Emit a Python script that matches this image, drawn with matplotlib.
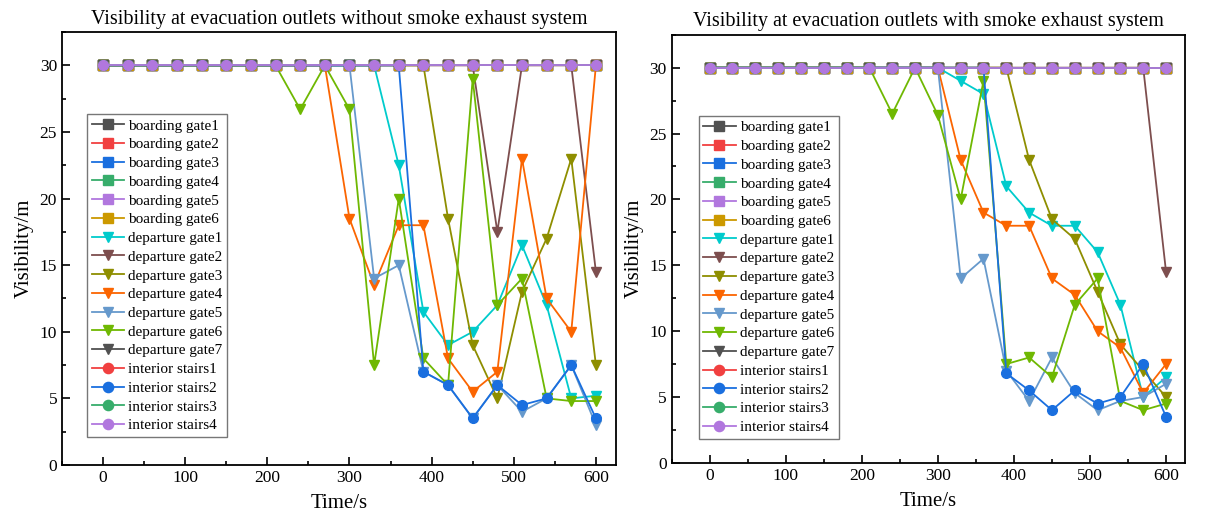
import numpy as np
import matplotlib
matplotlib.use("Agg")
import matplotlib.pyplot as plt
from matplotlib.ticker import MultipleLocator

plt.rcParams['font.family'] = ['Liberation Serif', 'DejaVu Serif']

# time axis, every 30 s
time_s = np.arange(0, 601, 30)

labels = ['boarding gate1', 'boarding gate2', 'boarding gate3', 'boarding gate4',
          'boarding gate5', 'boarding gate6', 'departure gate1', 'departure gate2',
          'departure gate3', 'departure gate4', 'departure gate5', 'departure gate6',
          'departure gate7', 'interior stairs1', 'interior stairs2', 'interior stairs3',
          'interior stairs4']
colors = ['#515151', '#F14040', '#1A6FDF', '#37AD6B', '#B177DE', '#CC9900',
          '#00CBCC', '#7D4E4E', '#8E8E00', '#FB6501', '#6699CC', '#6FB802',
          '#515151', '#F14040', '#1A6FDF', '#37AD6B', '#B177DE']
markers = ['s'] * 6 + ['v'] * 7 + ['o'] * 4

full = [30] * 21

# without smoke exhaust system
no_dep1 = [30]*12 + [22.5, 11.5, 9, 10, 12, 16.5, 12, 5, 5.2]
no_dep2 = [30]*16 + [17.5, 30, 30, 30, 14.5]
no_dep3 = [30]*14 + [18.5, 9, 5, 13, 17, 23, 7.5]
no_dep4 = [30]*10 + [18.5, 13.5, 18, 18, 8, 5.5, 7, 23, 12.5, 10, 30]
no_dep5 = [30]*11 + [14, 15, 7, 6, 3.5, 6, 4, 5, 7.5, 3]
no_dep6 = [30]*8 + [26.7, 30, 26.7, 7.5, 20, 8, 6, 29, 12, 14, 5, 4.8, 4.8]
no_st2 = [30]*13 + [7, 6, 3.5, 6, 4.5, 5, 7.5, 3.5]

# with smoke exhaust system
ex_dep1 = [30]*11 + [29, 28, 21, 19, 18, 18, 16, 12, 5, 6.5]
ex_dep2 = [30]*20 + [14.5]
ex_dep3 = [30]*14 + [23, 18.5, 17, 13, 9, 7, 5]
ex_dep4 = [30]*11 + [23, 19, 18, 18, 14, 12.75, 10, 8.75, 5.3, 7.5]
ex_dep5 = [30]*11 + [14, 15.5, 7, 4.7, 8, 5.3, 4, 4.7, 5, 6]
ex_dep6 = [30]*8 + [26.5, 30, 26.4, 20, 29, 7.5, 8, 6.5, 12, 14, 4.7, 4, 4.5]
ex_st2 = [30]*13 + [6.8, 5.5, 4, 5.5, 4.5, 5, 7.5, 3.5]

no_series = [full]*6 + [no_dep1, no_dep2, no_dep3, no_dep4, no_dep5, no_dep6, full,
                        full, no_st2, full, full]
ex_series = [full]*6 + [ex_dep1, ex_dep2, ex_dep3, ex_dep4, ex_dep5, ex_dep6, full,
                        full, ex_st2, full, full]

fig = plt.figure(figsize=(12.08, 5.26), dpi=100)
ax1 = fig.add_axes([0.0513, 0.116, 0.459, 0.823])
ax2 = fig.add_axes([0.556, 0.12, 0.425, 0.814])

titles = ['Visibility at evacuation outlets without smoke exhaust system',
          'Visibility at evacuation outlets with smoke exhaust system']

for ax, data, title, leg_x in [(ax1, no_series, titles[0], 0.045),
                               (ax2, ex_series, titles[1], 0.053)]:
    for y, lab, c, m in zip(data, labels, colors, markers):
        ax.plot(time_s, y, color=c, marker=m, markersize=7, linewidth=1.3, label=lab)
    ax.set_xlim(-50, 625)
    ax.set_ylim(0, 32.5)
    ax.xaxis.set_major_locator(MultipleLocator(100))
    ax.xaxis.set_minor_locator(MultipleLocator(50))
    ax.yaxis.set_major_locator(MultipleLocator(5))
    ax.yaxis.set_minor_locator(MultipleLocator(2.5))
    ax.tick_params(which='both', direction='in', labelsize=12.5, width=1.2)
    ax.tick_params(which='major', length=6)
    ax.tick_params(which='minor', length=3)
    for sp in ax.spines.values():
        sp.set_linewidth(1.3)
    ax.set_title(title, fontsize=14.5, pad=6)
    ax.set_xlabel('Time/s', fontsize=15, labelpad=6)
    ax.set_ylabel('Visibility/m', fontsize=15, labelpad=4)
    leg = ax.legend(loc='upper left', bbox_to_anchor=(leg_x, 0.81), fontsize=11,
                    fancybox=False, framealpha=1, edgecolor='#777777',
                    handlelength=2.1, handletextpad=0.3, labelspacing=0.33,
                    borderpad=0.3, borderaxespad=0, markerscale=1.05)
    leg.get_frame().set_linewidth(1.0)

fig.savefig('out.png', dpi=100)
